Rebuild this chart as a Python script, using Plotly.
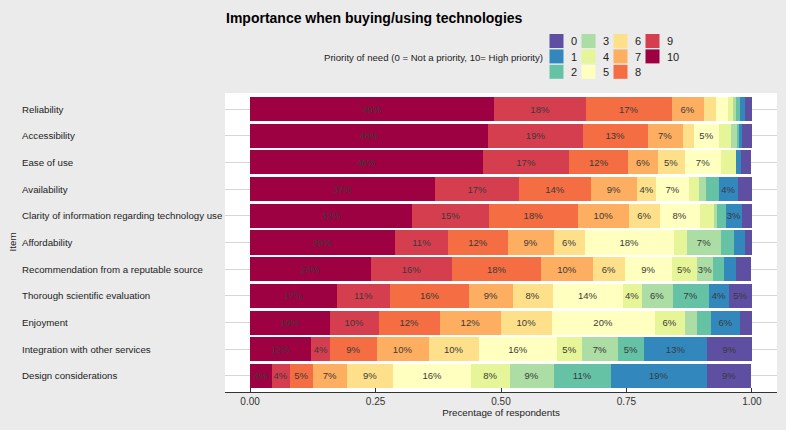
import plotly.graph_objects as go

items = ["Reliability", "Accessibility", "Ease of use", "Availability",
         "Clarity of information regarding technology use", "Affordability",
         "Recommendation from a reputable source", "Thorough scientific evaluation",
         "Enjoyment", "Integration with other services", "Design considerations"]

p10 = [.487, .475, .464, .369, .323, .289, .240, .173, .159, .122, .043]
p9 = [.182, .188, .172, .167, .153, .106, .163, .106, .097, .038, .036]
p8 = [.171, .129, .118, .143, .177, .118, .177, .158, .122, .092, .046]
p7 = [.064, .070, .058, .092, .102, .092, .103, .086, .122, .104, .068]
p6 = [.024, .023, .054, .038, .061, .062, .064, .080, .101, .100, .092]
p5 = [.025, .049, .073, .066, .080, .177, .093, .140, .205, .156, .156]
p4 = [.009, .024, .029, .020, .028, .027, .050, .037, .060, .049, .076]
p3 = [.007, .013, .000, .014, .006, .067, .033, .062, .025, .072, .088]
p2 = [.008, .004, .000, .025, .018, .027, .022, .072, .028, .052, .114]
p1 = [.009, .005, .010, .038, .032, .022, .024, .040, .057, .126, .191]
p0 = [.014, .020, .021, .029, .020, .013, .029, .046, .025, .089, .089]

levels = ["10", "9", "8", "7", "6", "5", "4", "3", "2", "1", "0"]
series = [p10, p9, p8, p7, p6, p5, p4, p3, p2, p1, p0]
colors = {"0": "#5E4FA2", "1": "#3288BD", "2": "#66C2A5", "3": "#ABDDA4",
          "4": "#E6F598", "5": "#FFFFBF", "6": "#FEE08B", "7": "#FDAE61",
          "8": "#F46D43", "9": "#D53E4F", "10": "#9E0142"}

FONT = "Liberation Sans, Arial, sans-serif"
W, H = 786, 430
ML, MR, MT, MB = 225, 9, 93, 38
PW, PH = W - ML - MR, H - MT - MB


def px_x(p):  # pixel x -> paper x
    return (p - ML) / PW


def px_y(p):  # pixel y (from top) -> paper y
    return (H - MB - p) / PH


fig = go.Figure()
for lev, vals in zip(levels, series):
    txt = [f"{v*100:.0f}%" if v >= 0.03 else "" for v in vals]
    fig.add_trace(go.Bar(
        y=items, x=vals, orientation="h", name=lev,
        marker=dict(color=colors[lev], line=dict(width=0)),
        text=txt, textposition="inside", insidetextanchor="middle",
        textangle=0, constraintext="none",
        textfont=dict(size=9.5, color="#3a3a3a", family=FONT),
        width=0.9, hoverinfo="skip", showlegend=False))

annotations = []
for it in items:
    annotations.append(dict(xref="paper", yref="y", x=px_x(20), y=it, text=it,
                            showarrow=False, xanchor="left", yanchor="middle",
                            font=dict(size=9.7, color="#222", family=FONT)))
annotations.append(dict(xref="paper", yref="paper", x=px_x(12), y=0.5, text="Item",
                        textangle=-90, showarrow=False, xanchor="center",
                        yanchor="middle", font=dict(size=9.8, color="#222", family=FONT)))
annotations.append(dict(xref="paper", yref="paper", x=px_x(545), y=px_y(57),
                        text="Priority of need (0 = Not a priority, 10= High priority)",
                        showarrow=False, xanchor="right", yanchor="middle",
                        font=dict(size=9.6, color="#222", family=FONT)))

# manual legend (4 columns x 3 rows, column-major)
shapes = []
legend_levels = [str(k) for k in range(11)]
for i, lev in enumerate(legend_levels):
    col, row = divmod(i, 3)
    x0 = 549.5 + 32 * col
    y0 = 34 + 15.4 * row
    shapes.append(dict(type="rect", xref="paper", yref="paper",
                       x0=px_x(x0), x1=px_x(x0 + 14), y0=px_y(y0 + 14), y1=px_y(y0),
                       fillcolor=colors[lev], line=dict(width=0), layer="above"))
    annotations.append(dict(xref="paper", yref="paper", x=px_x(x0 + 19), y=px_y(y0 + 7.3),
                            text=lev, showarrow=False, xanchor="left", yanchor="middle",
                            font=dict(size=11, color="#222", family=FONT)))

fig.update_layout(
    width=W, height=H,
    barmode="stack",
    paper_bgcolor="#EBEBEB", plot_bgcolor="white",
    margin=dict(l=ML, r=MR, t=MT, b=MB, autoexpand=False),
    font=dict(family=FONT, color="#222"),
    title=dict(text="<b>Importance when buying/using technologies</b>",
               x=226 / W, xanchor="left", y=1 - 18 / H, yanchor="middle",
               font=dict(size=14, color="black", family=FONT)),
    xaxis=dict(range=[-0.05, 1.05], tickvals=[0, 0.25, 0.5, 0.75, 1.0],
               ticktext=["0.00", "0.25", "0.50", "0.75", "1.00"],
               showgrid=False, zeroline=False, showline=True, linecolor="#333",
               linewidth=1, ticks="inside", ticklen=4, tickcolor="#333",
               tickfont=dict(size=10, color="#333"),
               title=dict(text="Precentage of respondents", standoff=2,
                          font=dict(size=9.8, color="#222"))),
    yaxis=dict(categoryorder="array", categoryarray=items, range=[10.6, -0.6],
               showticklabels=False, showgrid=True, gridcolor="#D6D6D6",
               gridwidth=1, zeroline=False, ticks=""),
    annotations=annotations,
    shapes=shapes,
    showlegend=False,
)

fig.write_html("out.html", config={"displayModeBar": False},
               post_script="document.body.style.margin='0';document.body.style.padding='0';")
